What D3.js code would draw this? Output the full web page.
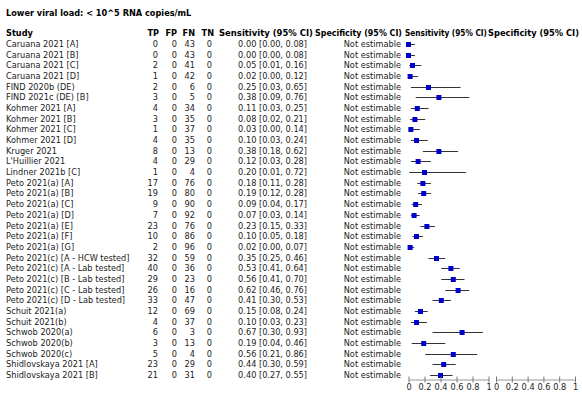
<!DOCTYPE html>
<html>
<head>
<meta charset="utf-8">
<script src="https://cdn.jsdelivr.net/npm/d3@7"></script>
<style>
  body { margin: 0; background: #fff; }
  svg { font-family: "DejaVu Sans", Verdana, sans-serif; font-size: 8.2px; }
  .hdr { font-weight: bold; }
</style>
</head>
<body>
<svg id="drawing_region"></svg>
<script>
const title = 'Lower viral load: < 10^5 RNA copies/mL';

const studies = [
    'Caruana 2021 [A]', 'Caruana 2021 [B]', 'Caruana 2021 [C]', 'Caruana 2021 [D]',
    'FIND 2020b (DE)', 'FIND 2021c (DE) [B]',
    'Kohmer 2021 [A]', 'Kohmer 2021 [B]', 'Kohmer 2021 [C]', 'Kohmer 2021 [D]',
    'Kruger 2021', "L'Huillier 2021", 'Lindner 2021b [C]',
    'Peto 2021(a) [A]', 'Peto 2021(a) [B]', 'Peto 2021(a) [C]', 'Peto 2021(a) [D]',
    'Peto 2021(a) [E]', 'Peto 2021(a) [F]', 'Peto 2021(a) [G]',
    'Peto 2021(c) [A - HCW tested]', 'Peto 2021(c) [A - Lab tested]',
    'Peto 2021(c) [B - Lab tested]', 'Peto 2021(c) [C - Lab tested]',
    'Peto 2021(c) [D - Lab tested]',
    'Schuit 2021(a)', 'Schuit 2021(b)',
    'Schwob 2020(a)', 'Schwob 2020(b)', 'Schwob 2020(c)',
    'Shidlovskaya 2021 [A]', 'Shidlovskaya 2021 [B]'
];
const tp = [0, 0, 2, 1, 2, 3, 4, 3, 1, 4, 8, 4, 1, 17, 19, 9, 7, 23, 10, 2, 32, 40, 29, 26, 33, 12, 4, 6, 3, 5, 23, 21];
const fp = [0, 0, 0, 0, 0, 0, 0, 0, 0, 0, 0, 0, 0, 0, 0, 0, 0, 0, 0, 0, 0, 0, 0, 0, 0, 0, 0, 0, 0, 0, 0, 0];
const fn = [43, 43, 41, 42, 6, 5, 34, 35, 37, 35, 13, 29, 4, 76, 80, 90, 92, 76, 86, 96, 59, 36, 23, 16, 47, 69, 37, 3, 13, 4, 29, 31];
const tn = [0, 0, 0, 0, 0, 0, 0, 0, 0, 0, 0, 0, 0, 0, 0, 0, 0, 0, 0, 0, 0, 0, 0, 0, 0, 0, 0, 0, 0, 0, 0, 0];
const sens = [0.00, 0.00, 0.05, 0.02, 0.25, 0.38, 0.11, 0.08, 0.03, 0.10, 0.38, 0.12, 0.20, 0.18, 0.19, 0.09, 0.07, 0.23, 0.10, 0.02, 0.35, 0.53, 0.56, 0.62, 0.41, 0.15, 0.10, 0.67, 0.19, 0.56, 0.44, 0.40];
const sensLo = [0.00, 0.00, 0.01, 0.00, 0.03, 0.09, 0.03, 0.02, 0.00, 0.03, 0.18, 0.03, 0.01, 0.11, 0.12, 0.04, 0.03, 0.15, 0.05, 0.00, 0.25, 0.41, 0.41, 0.46, 0.30, 0.08, 0.03, 0.30, 0.04, 0.21, 0.30, 0.27];
const sensHi = [0.08, 0.08, 0.16, 0.12, 0.65, 0.76, 0.25, 0.21, 0.14, 0.24, 0.62, 0.28, 0.72, 0.28, 0.28, 0.17, 0.14, 0.33, 0.18, 0.07, 0.46, 0.64, 0.70, 0.76, 0.53, 0.24, 0.23, 0.93, 0.46, 0.86, 0.59, 0.55];
const tickValues = [0, 0.2, 0.4, 0.6, 0.8, 1];
const tickLabels = ['0', '0.2', '0.4', '0.6', '0.8', '1'];

class ForestPlot {

    constructor( config ) {
        this.config = {
            width : config.width || 582,
            height : config.height || 397
        }
        this.init();
    }

    init(){
        let self = this;
        self.svg = d3.select('#drawing_region')
            .attr('width', self.config.width)
            .attr('height', self.config.height);

        self.rows = d3.range(studies.length);
        self.yscale = d3.scalePoint()
            .domain(self.rows)
            .range([44, 375]);

        self.sens_scale = d3.scaleLinear().domain([0, 1]).range([408.5, 488.5]);
        self.spec_scale = d3.scaleLinear().domain([0, 1]).range([496, 575]);
        self.axis_y = 379.5;
    }

    render(){
        let self = this;
        const svg = self.svg;

        svg.append('text').attr('class', 'hdr')
            .attr('x', 6).attr('y', 16).text(title);

        // column headers (widths squeezed to match the original layout)
        const headers = [
            {t: 'Study', x: 6, a: 'start'},
            {t: 'TP', x: 159, a: 'end'},
            {t: 'FP', x: 177, a: 'end'},
            {t: 'FN', x: 195, a: 'end'},
            {t: 'TN', x: 214, a: 'end'},
            {t: 'Sensitivity (95% CI)', x: 219, a: 'start', w: 94},
            {t: 'Specificity (95% CI)', x: 315, a: 'start', w: 87},
            {t: 'Sensitivity (95% CI)', x: 405, a: 'start', w: 82},
            {t: 'Specificity (95% CI)', x: 488, a: 'start', w: 91}
        ];
        const hg = svg.append('g').selectAll('text')
            .data(headers).join('text')
            .attr('class', 'hdr')
            .attr('x', d => d.x).attr('y', 36)
            .attr('text-anchor', d => d.a)
            .text(d => d.t);
        hg.filter(d => d.w)
            .attr('textLength', d => d.w)
            .attr('lengthAdjust', 'spacingAndGlyphs');

        // table columns
        const cols = [
            {f: i => studies[i], x: 6, a: 'start'},
            {f: i => tp[i], x: 158, a: 'end'},
            {f: i => fp[i], x: 177, a: 'end'},
            {f: i => fn[i], x: 195, a: 'end'},
            {f: i => tn[i], x: 212, a: 'end'},
            {f: i => `${sens[i].toFixed(2)} [${sensLo[i].toFixed(2)}, ${sensHi[i].toFixed(2)}]`, x: 307, a: 'end'},
            {f: i => 'Not estimable', x: 401, a: 'end'}
        ];
        const table = svg.append('g').attr('fill', '#222');
        cols.forEach(c => {
            table.append('g').selectAll('text')
                .data(self.rows).join('text')
                .attr('x', c.x)
                .attr('y', d => self.yscale(d) + 3)
                .attr('text-anchor', c.a)
                .text(c.f);
        });

        // CI lines and points
        const marks = svg.append('g');
        marks.selectAll('line')
            .data(self.rows).join('line')
            .attr('x1', d => self.sens_scale(sensLo[d]))
            .attr('x2', d => self.sens_scale(sensHi[d]))
            .attr('y1', d => Math.round(self.yscale(d)) + 0.5)
            .attr('y2', d => Math.round(self.yscale(d)) + 0.5)
            .attr('stroke', '#333')
            .attr('stroke-width', 1);
        marks.selectAll('rect')
            .data(self.rows).join('rect')
            .attr('x', d => self.sens_scale(sens[d]) - 2.5)
            .attr('y', d => Math.round(self.yscale(d)) - 2)
            .attr('width', 5)
            .attr('height', 5)
            .attr('fill', '#0000cc');

        // axes
        [self.sens_scale, self.spec_scale].forEach(sc => {
            const ax = d3.axisBottom(sc)
                .tickValues(tickValues)
                .tickFormat((d, i) => tickLabels[i])
                .tickSize(3)
                .tickSizeOuter(0);
            const g = svg.append('g')
                .attr('transform', `translate(0, ${self.axis_y})`)
                .call(ax);
            g.select('.domain').attr('stroke', '#999');
            g.selectAll('.tick line').attr('stroke', '#777').attr('y1', -3);
            g.selectAll('.tick text')
                .attr('font-family', '"DejaVu Sans", sans-serif')
                .attr('font-size', 8.2)
                .attr('fill', '#222')
                .attr('y', 5);
        });
    }

}

let chart = new ForestPlot({width: 582, height: 397});
chart.render();
</script>
</body>
</html>
